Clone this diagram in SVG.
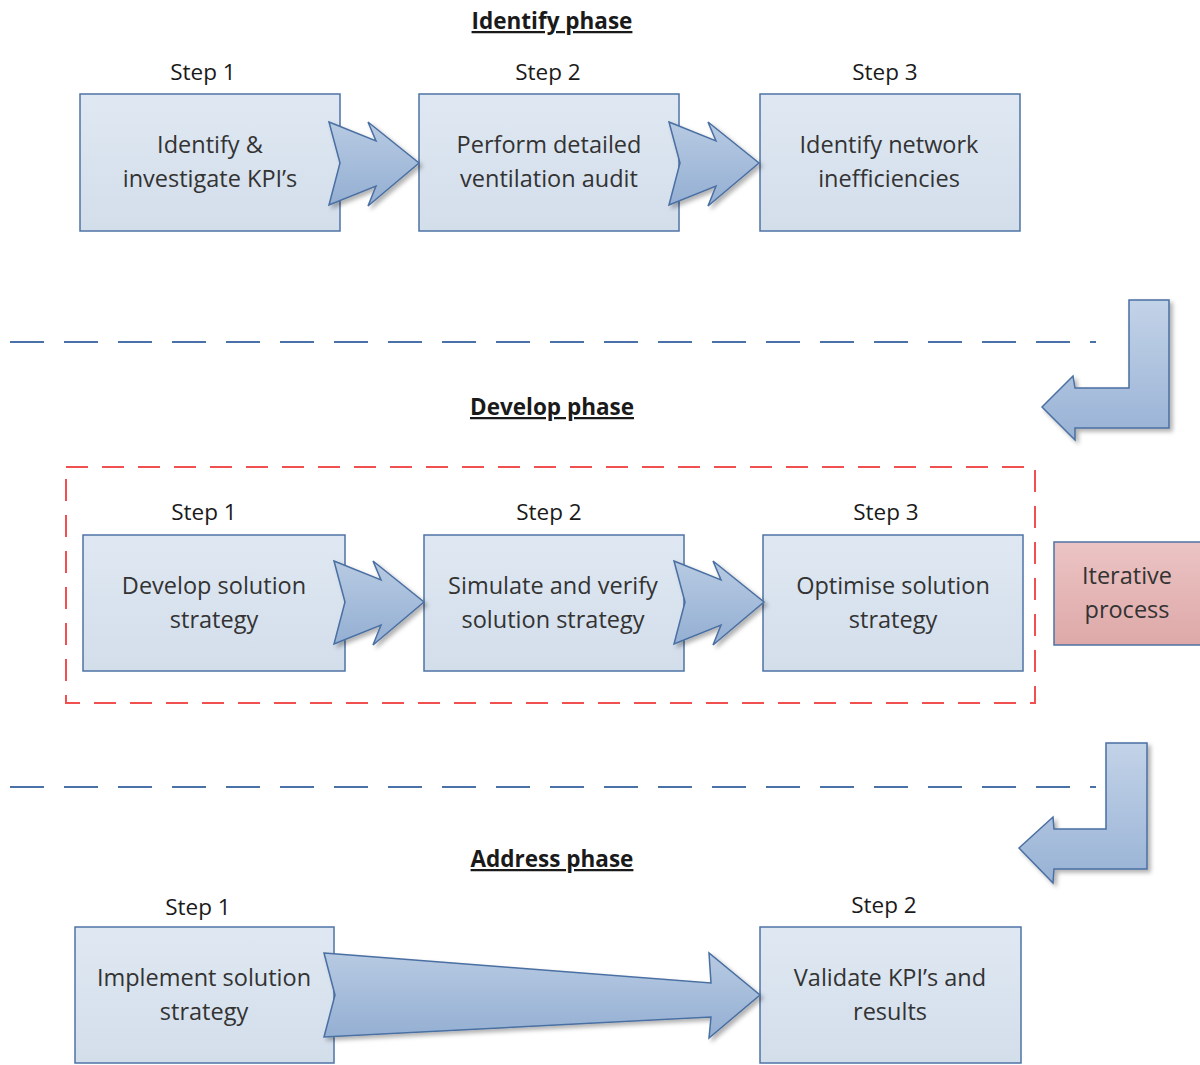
<svg xmlns="http://www.w3.org/2000/svg" width="1200" height="1065" viewBox="0 0 1200 1065">
  <defs>
    <linearGradient id="boxFill" x1="0" y1="0" x2="0" y2="1">
      <stop offset="0" stop-color="#dfe8f2"/>
      <stop offset="1" stop-color="#d3deeb"/>
    </linearGradient>
    <linearGradient id="pinkFill" x1="0" y1="0" x2="0" y2="1">
      <stop offset="0" stop-color="#ecc4c4"/>
      <stop offset="1" stop-color="#dea8a8"/>
    </linearGradient>
    <linearGradient id="arrowFill" x1="0" y1="0" x2="0" y2="1">
      <stop offset="0" stop-color="#b7cae2"/>
      <stop offset="1" stop-color="#94afd3"/>
    </linearGradient>
    <linearGradient id="bendFill" x1="0" y1="0" x2="0" y2="1">
      <stop offset="0" stop-color="#c3d3e8"/>
      <stop offset="1" stop-color="#98b2d5"/>
    </linearGradient>
    <filter id="shadow" x="-20%" y="-20%" width="150%" height="150%">
      <feDropShadow dx="3" dy="3" stdDeviation="2" flood-color="#000" flood-opacity="0.3"/>
    </filter>
    <path id="chevron" d="M0,0 L47,19 L39,0 L90,41 L39,84 L47,64 L0,83 L11,41 Z"/>
  </defs>
  <style>
    .box { fill: url(#boxFill); stroke: #4f73a5; stroke-width: 1.5; }
    .pink { fill: url(#pinkFill); stroke: #4f73a5; stroke-width: 1.5; }
    .arrow { fill: url(#arrowFill); stroke: #4a6fa2; stroke-width: 1.5; stroke-linejoin: miter; filter: url(#shadow); }
    .bend { fill: url(#bendFill); }
    .txt { font-family: "Open Sans", "Noto Sans", "Liberation Sans", sans-serif; font-size: 23.5px; fill: #333; text-anchor: middle; }
    .step { font-family: "Open Sans", "Noto Sans", "Liberation Sans", sans-serif; font-size: 22.5px; fill: #1a1a1a; text-anchor: middle; }
    .phase { font-family: "Open Sans", "Noto Sans", "Liberation Sans", sans-serif; font-size: 22.5px; font-weight: bold; fill: #1a1a1a; text-anchor: middle; text-decoration: underline; }
    .divider { stroke: #4a72a8; stroke-width: 2; stroke-dasharray: 34 20; fill: none; }
    .group-frame { stroke: #f05050; stroke-width: 2; stroke-dasharray: 22 14; fill: none; }
  </style>

  <!-- phase headings -->
  <text class="phase" x="552" y="29">Identify phase</text>
  <text class="phase" x="552" y="415">Develop phase</text>
  <text class="phase" x="552" y="867">Address phase</text>

  <!-- phase dividers and iteration frame -->
  <line class="divider" x1="10" y1="342" x2="1096" y2="342"/>
  <line class="divider" x1="10" y1="787" x2="1096" y2="787"/>
  <rect class="group-frame" x="66" y="467" width="969" height="236"/>

  <!-- step labels -->
  <g id="step-labels">
    <text class="step" x="203" y="80">Step 1</text>
    <text class="step" x="548" y="80">Step 2</text>
    <text class="step" x="885" y="80">Step 3</text>
    <text class="step" x="204" y="520">Step 1</text>
    <text class="step" x="549" y="520">Step 2</text>
    <text class="step" x="886" y="520">Step 3</text>
    <text class="step" x="198" y="915">Step 1</text>
    <text class="step" x="884" y="913">Step 2</text>
  </g>

  <!-- Identify phase -->
  <g id="identify-1">
    <rect class="box" x="80" y="94" width="260" height="137"/>
    <text class="txt" x="210" y="153">Identify &amp;</text>
    <text class="txt" x="210" y="187">investigate KPI’s</text>
  </g>
  <g id="identify-2">
    <rect class="box" x="419" y="94" width="260" height="137"/>
    <text class="txt" x="549" y="153">Perform detailed</text>
    <text class="txt" x="549" y="187">ventilation audit</text>
  </g>
  <g id="identify-3">
    <rect class="box" x="760" y="94" width="260" height="137"/>
    <text class="txt" x="889" y="153">Identify network</text>
    <text class="txt" x="889" y="187">inefficiencies</text>
  </g>

  <!-- Develop phase -->
  <g id="develop-1">
    <rect class="box" x="83" y="535" width="262" height="136"/>
    <text class="txt" x="214" y="594">Develop solution</text>
    <text class="txt" x="214" y="628">strategy</text>
  </g>
  <g id="develop-2">
    <rect class="box" x="424" y="535" width="260" height="136"/>
    <text class="txt" x="553" y="594">Simulate and verify</text>
    <text class="txt" x="553" y="628">solution strategy</text>
  </g>
  <g id="develop-3">
    <rect class="box" x="763" y="535" width="260" height="136"/>
    <text class="txt" x="893" y="594">Optimise solution</text>
    <text class="txt" x="893" y="628">strategy</text>
  </g>
  <g id="iterative">
    <rect class="pink" x="1054" y="542" width="150" height="103"/>
    <text class="txt" x="1127" y="584">Iterative</text>
    <text class="txt" x="1127" y="618">process</text>
  </g>

  <!-- Address phase -->
  <g id="address-1">
    <rect class="box" x="75" y="927" width="259" height="136"/>
    <text class="txt" x="204" y="986">Implement solution</text>
    <text class="txt" x="204" y="1020">strategy</text>
  </g>
  <g id="address-2">
    <rect class="box" x="760" y="927" width="261" height="136"/>
    <text class="txt" x="890" y="986">Validate KPI’s and</text>
    <text class="txt" x="890" y="1020">results</text>
  </g>

  <!-- connectors -->
  <g id="connectors">
    <use href="#chevron" class="arrow" transform="translate(329,122)"/>
    <use href="#chevron" class="arrow" transform="translate(669,122)"/>
    <use href="#chevron" class="arrow" transform="translate(334,561)"/>
    <use href="#chevron" class="arrow" transform="translate(674,561)"/>
    <path class="arrow" d="M324,953 L711,983 L709,953 L760,995 L709,1038 L711,1017 L324,1037 L335,995 Z"/>
    <path class="arrow bend" d="M1129,300 L1169,300 L1169,428 L1075,428 L1075,440 L1042,407 L1073,376 L1075,388 L1129,388 Z"/>
    <path class="arrow bend" d="M1106,743 L1147,743 L1147,869 L1054,869 L1053,883 L1019,848 L1053,817 L1054,829 L1106,829 Z"/>
  </g>
</svg>
